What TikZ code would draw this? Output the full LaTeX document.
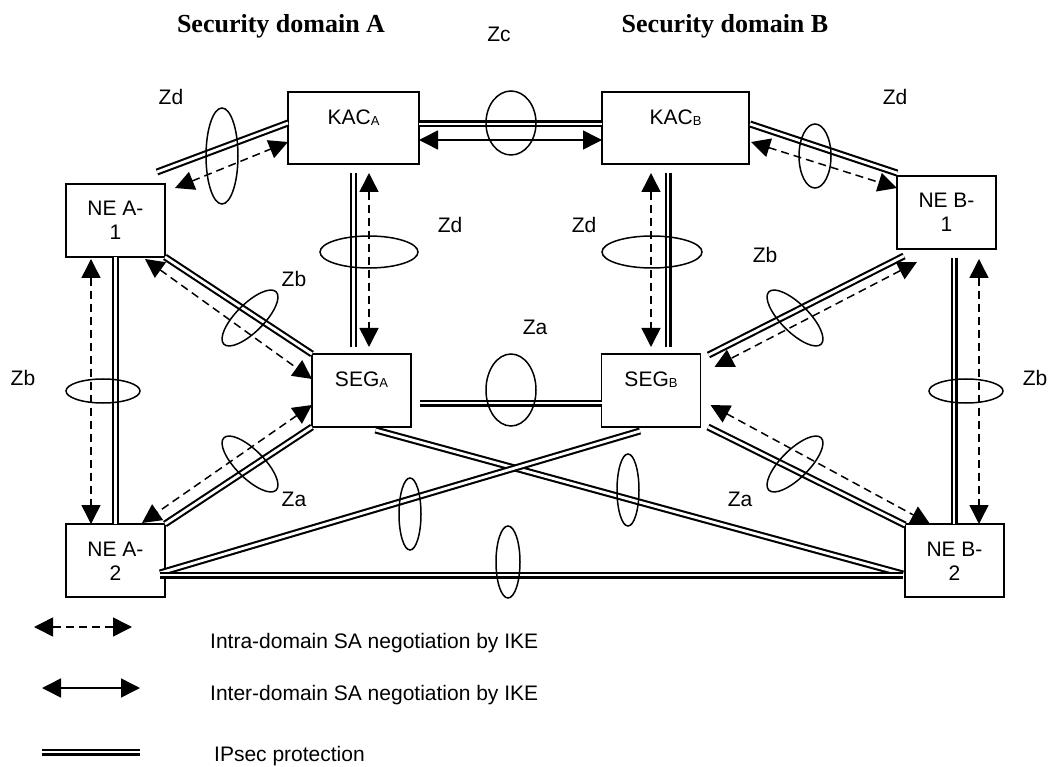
\documentclass[tikz,border=0pt]{standalone}
\usepackage{fontspec}
\setmainfont{Liberation Sans}
\newfontfamily\titlefont{Liberation Serif}
\usetikzlibrary{arrows.meta,calc}
\newcommand{\sbs}[1]{\raisebox{-1pt}{\fontsize{13}{13}\selectfont #1}}
\begin{document}
\begin{tikzpicture}[x=1pt,y=-1pt,
  box/.style={draw, line width=1.6pt, minimum width=99pt, minimum height=73pt, inner sep=0pt, outer sep=0pt},
  lbl/.style={font=\fontsize{21}{24}\selectfont, anchor=base, inner sep=0pt},
  ttl/.style={font={\titlefont\bfseries\fontsize{26}{28}\selectfont}, anchor=base, inner sep=0pt},
  ipsec/.style={double, double distance=2.8pt, line width=2.1pt},
  intra/.style={line width=1.5pt, dash pattern=on 8pt off 5pt, {Triangle[length=19pt,width=19pt]}-{Triangle[length=19pt,width=19pt]}},
  inter/.style={line width=1.5pt, {Triangle[length=19pt,width=19pt]}-{Triangle[length=19pt,width=19pt]}},
  ring/.style={line width=1.5pt},
]
\useasboundingbox (0,0) rectangle (1050,767);

% titles
\node[ttl] (ta) at (281,33) {Security domain A};
\node[ttl] (tb) at (725,33) {Security domain B};
\node[lbl] (zc) at (499,42) {Zc};

% boxes
\node[box, minimum width=131pt, minimum height=72pt] (kaca) at (353.5,128) {};
\node[box, minimum width=147pt, minimum height=72pt] (kacb) at (675.5,128) {};
\node[box] (nea1) at (115.5,220.5) {};
\node[box] (neb1) at (946.5,212.5) {};
\node[box] (sega) at (361.5,390.5) {};
\node[box] (segb) at (651,390.5) {};
\node[box] (nea2) at (115.5,560.5) {};
\node[box] (neb2) at (954.5,560.5) {};

% box texts
\node[lbl] (kacaT) at (353.5,125) {KAC\sbs{A}};
\node[lbl] (kacbT) at (675.5,125) {KAC\sbs{B}};
\node[lbl] (segaT) at (361.5,387) {SEG\sbs{A}};
\node[lbl] (segbT) at (651,387) {SEG\sbs{B}};
\node[lbl, align=center] (nea1T) at (115.5,240) {NE A-\\1};
\node[lbl, align=center] (neb1T) at (946.5,232) {NE B-\\1};
\node[lbl, align=center] (nea2T) at (115.5,580) {NE A-\\2};
\node[lbl, align=center] (neb2T) at (954.5,580) {NE B-\\2};

% KAC_A -- KAC_B
\draw[ipsec] ($(kaca.north east)+(0,32)$) -- ($(kacb.north west)+(0,32)$);
\draw[inter] ($(kaca.north east)+(0,48)$) -- ($(kacb.north west)+(0,48)$);
\draw[ring] (511,123) ellipse [x radius=25pt, y radius=32pt];

% KAC_A -- NE A-1
\draw[ipsec] ($(kaca.north west)+(0,31)$) -- ($(nea1.north east)+(-8,-12)$);
\draw[intra] ($(nea1.north east)+(10,4)$) -- ($(kaca.north west)+(0,50)$);
\draw[ring] (222,156) ellipse [x radius=16pt, y radius=48pt];
\node[lbl] (zd1) at (171,105) {Zd};

% KAC_A -- SEG_A
\draw[ipsec] ($(kaca.south)+(0,9)$) -- ($(sega.north)+(-8,-7)$);
\draw[intra] ($(kaca.south)+(15.5,9)$) -- ($(sega.north)+(7.5,-7)$);
\draw[ring] (369,252) ellipse [x radius=49pt, y radius=16pt];
\node[lbl] (zd2) at (450,233) {Zd};

% NE A-1 -- SEG_A
\draw[ipsec] (nea1.south east) -- (sega.north west);
\draw[intra] ($(nea1.south east)+(-20,2)$) -- ($(sega.north west)+(0,25)$);
\draw[ring, rotate around={45:(250,318)}] (250,318) ellipse [x radius=37pt, y radius=14pt];
\node[lbl] (zb1) at (294,287) {Zb};

% NE A-1 -- NE A-2
\draw[ipsec] (nea1.south) -- (nea2.north);
\draw[intra] ($(nea1.south)+(-24.5,2)$) -- ($(nea2.north)+(-24.5,0)$);
\draw[ring] (103,391) ellipse [x radius=37pt, y radius=12pt];
\node[lbl] (zb2) at (23,385) {Zb};

% SEG_A -- NE A-2
\draw[ipsec] (sega.south west) -- (nea2.north east);
\draw[intra] ($(sega.north west)+(0,51)$) -- ($(nea2.north east)+(-23,-1)$);
\draw[ring, rotate around={-45:(250,464)}] (250,464) ellipse [x radius=37pt, y radius=14pt];
\node[lbl] (za1) at (294,506) {Za};

% SEG_A -- SEG_B
\draw[ipsec] ($(sega.north east)+(9,49)$) -- ($(segb.north west)+(0,49)$);
\draw[ring] (511,390) ellipse [x radius=25pt, y radius=36pt];
\node[lbl] (za2) at (535,335) {Za};

% crossing links and bottom link
\draw[ipsec] ($(sega.south)+(14,3)$) -- ($(neb2.south west)+(-2,-23)$);
\draw[ipsec] ($(segb.south)+(-11,4)$) -- ($(nea2.south east)+(-5,-24)$);
\draw[ipsec] ($(nea2.south east)+(-5,-22)$) -- ($(neb2.south west)+(-2,-22)$);
\draw[ring] (410,514) ellipse [x radius=11pt, y radius=36pt];
\draw[ring] (628,490) ellipse [x radius=11pt, y radius=36pt];
\draw[ring] (508,562) ellipse [x radius=12pt, y radius=36pt];

% KAC_B -- NE B-1
\draw[ipsec] ($(kacb.north east)+(1,32)$) -- ($(neb1.north west)+(0,-3)$);
\draw[intra] ($(kacb.north east)+(2,50)$) -- ($(neb1.north west)+(0,12)$);
\draw[ring] (815,156) ellipse [x radius=16pt, y radius=32pt];
\node[lbl] (zd3) at (895,105) {Zd};

% KAC_B -- SEG_B
\draw[ipsec] ($(kacb.south)+(-7.5,9)$) -- ($(segb.north)+(17,-7)$);
\draw[intra] ($(kacb.south)+(-24.5,9)$) -- ($(segb.north)+(0,-7)$);
\draw[ring] (652,252) ellipse [x radius=50pt, y radius=16pt];
\node[lbl] (zd4) at (584,233) {Zd};

% NE B-1 -- SEG_B
\draw[ipsec] ($(neb1.south west)+(7,7)$) -- ($(segb.north east)+(8,1)$);
\draw[intra] ($(neb1.south west)+(20,13)$) -- ($(segb.north east)+(14,13)$);
\draw[ring, rotate around={-45:(795,318)}] (795,318) ellipse [x radius=37pt, y radius=14pt];
\node[lbl] (zb3) at (765,263) {Zb};

% NE B-1 -- NE B-2
\draw[ipsec] ($(neb1.south)+(7.5,9)$) -- ($(neb2.north)+(-0.5,0)$);
\draw[intra] ($(neb1.south)+(32.5,10)$) -- ($(neb2.north)+(24.5,0)$);
\draw[ring] (966,391) ellipse [x radius=37pt, y radius=12pt];
\node[lbl] (zb4) at (1035,385) {Zb};

% SEG_B -- NE B-2
\draw[ipsec] ($(segb.south east)+(7.5,0)$) -- ($(neb2.north west)+(0,1)$);
\draw[intra] ($(segb.north east)+(10,51)$) -- ($(neb2.north west)+(25,0)$);
\draw[ring, rotate around={45:(795,464)}] (795,464) ellipse [x radius=37pt, y radius=14pt];
\node[lbl] (za3) at (740,506) {Za};

% legend
\coordinate (l1a) at (34,627);  \coordinate (l1b) at (132,627);
\coordinate (l2a) at (42,688);  \coordinate (l2b) at (140,688);
\coordinate (l3a) at (42,752);  \coordinate (l3b) at (140,752);
\draw[intra] (l1a) -- (l1b);
\draw[inter] (l2a) -- (l2b);
\draw[ipsec] (l3a) -- (l3b);
\node[lbl, anchor=base west] (t1) at (210,648) {Intra-domain SA negotiation by IKE};
\node[lbl, anchor=base west] (t2) at (210,700) {Inter-domain SA negotiation by IKE};
\node[lbl, anchor=base west] (t3) at (214,761) {IPsec protection};
\end{tikzpicture}
\end{document}
